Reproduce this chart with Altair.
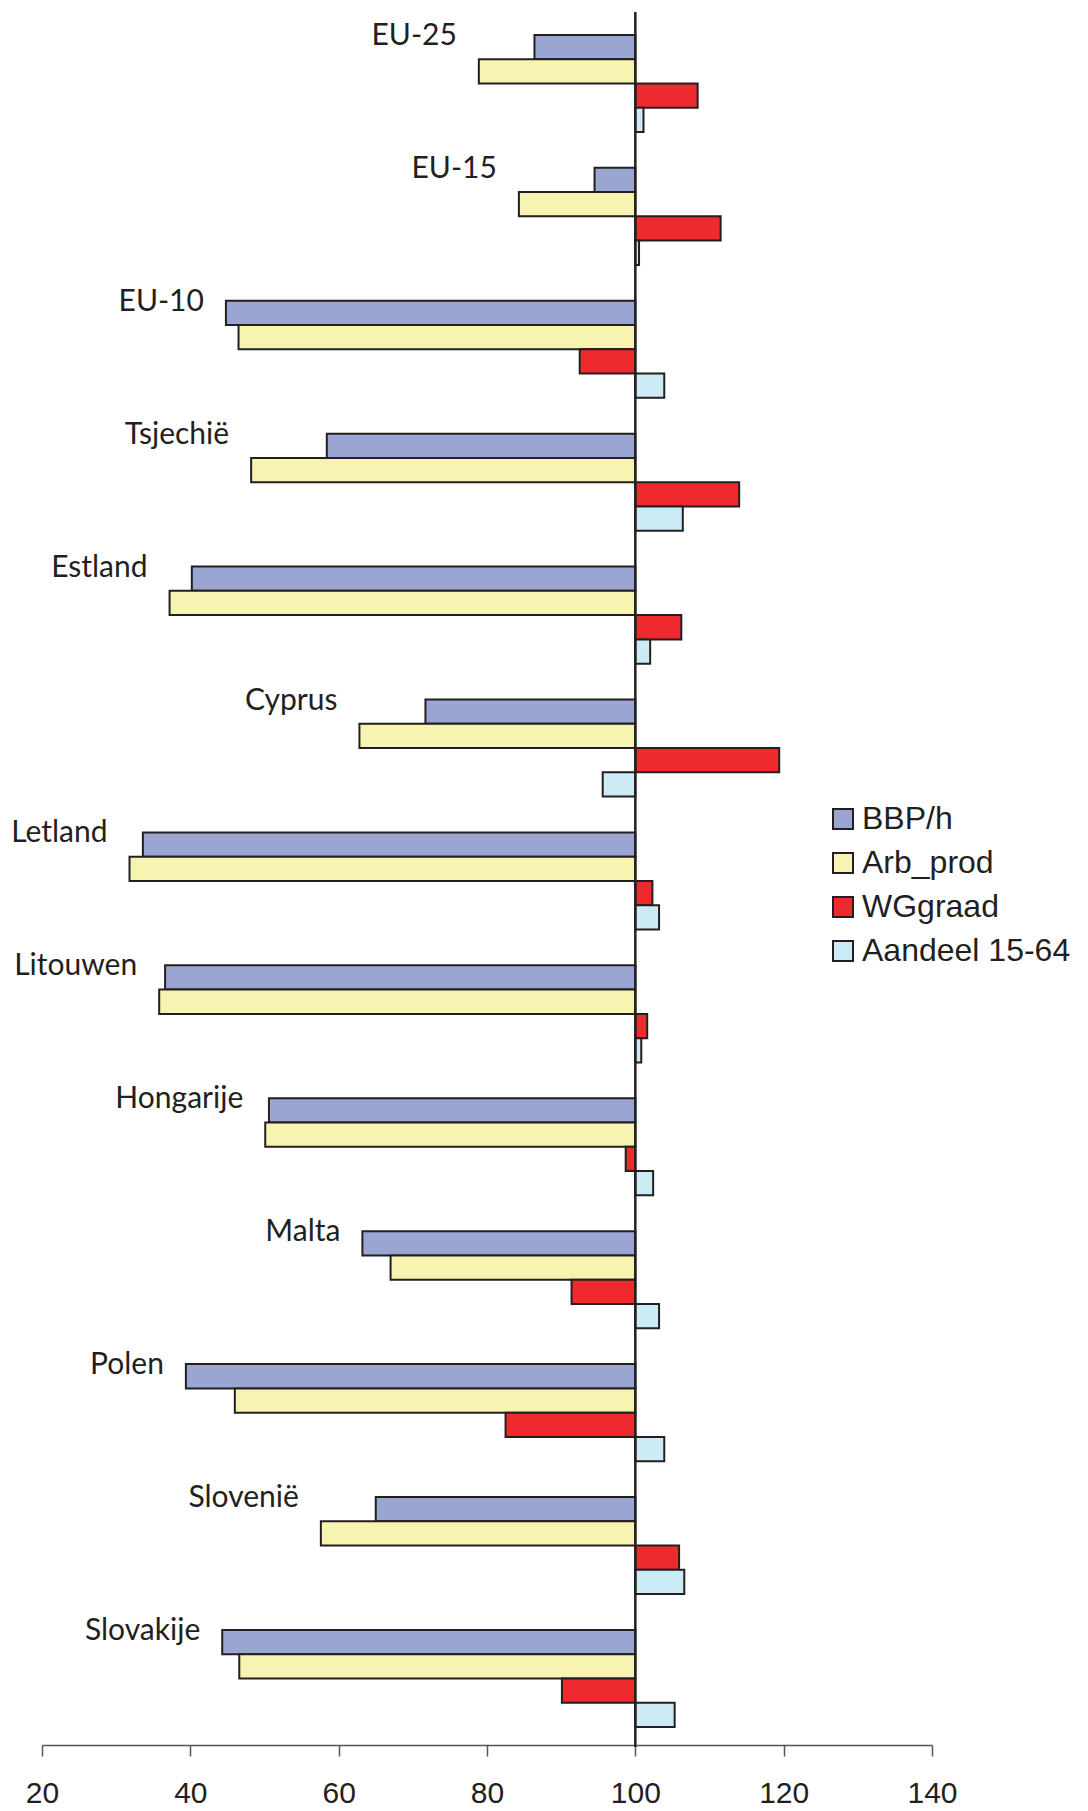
import altair as alt
import pandas as pd

countries = ["EU-25", "EU-15", "EU-10", "Tsjechië", "Estland", "Cyprus", "Letland",
             "Litouwen", "Hongarije", "Malta", "Polen", "Slovenië", "Slovakije"]
series = ["BBP/h", "Arb_prod", "WGgraad", "Aandeel 15-64"]

bbp_h = [86.4, 94.5, 44.8, 58.4, 40.2, 71.7, 33.6, 36.6, 50.6, 63.2, 39.4, 65.0, 44.3]
arb_prod = [78.9, 84.3, 46.5, 48.2, 37.2, 62.8, 31.8, 35.8, 50.1, 67.0, 46.0, 57.6, 46.6]
wggraad = [108.4, 111.5, 92.5, 114.0, 106.2, 119.4, 102.3, 101.6, 98.7, 91.4, 82.5, 105.9, 90.1]
aandeel = [101.1, 100.5, 103.9, 106.4, 102.0, 95.6, 103.2, 100.8, 102.4, 103.2, 103.9, 106.6, 105.3]

x_ticks = [20, 40, 60, 80, 100, 120, 140]
colors = ["#9AA5D2", "#F7F3B0", "#EE2A2F", "#CCEBF4"]
ink = "#231F20"

rows = []
for s, vals in zip(series, [bbp_h, arb_prod, wggraad, aandeel]):
    for c, v in zip(countries, vals):
        rows.append({"country": c, "series": s, "value": v})
df = pd.DataFrame(rows)

lab_df = pd.DataFrame({"country": countries,
                       "minv": [min(a, b) for a, b in zip(bbp_h, arb_prod)]})

W, H = 890, 1733

xscale = alt.Scale(domain=[20, 140], nice=False, zero=False)
yscale = alt.Scale(paddingInner=0.27, paddingOuter=0.154, align=0.56)

bars = alt.Chart(df).mark_bar(stroke=ink, strokeWidth=2).encode(
    x=alt.X("value:Q", scale=xscale,
            axis=alt.Axis(values=x_ticks, title=None, grid=False, domainColor="#555555",
                          domainWidth=1.5, tickColor="#555555", tickWidth=1.5, tickSize=11,
                          labelFont="Liberation Sans", labelFontSize=30, labelColor=ink,
                          labelPadding=22, labelFlush=False, labelOverlap=False)),
    x2=alt.datum(100),
    y=alt.Y("country:N", sort=countries, axis=None, scale=yscale),
    yOffset=alt.YOffset("series:N", sort=series,
                        scale=alt.Scale(domain=series, paddingInner=0, paddingOuter=0)),
    color=alt.Color("series:N", sort=series,
                    scale=alt.Scale(domain=series, range=colors),
                    legend=alt.Legend(orient="none", legendX=785, legendY=791, title=None,
                                      symbolType="square", symbolSize=400,
                                      symbolStrokeColor=ink, symbolStrokeWidth=2,
                                      labelFont="Liberation Sans", labelFontSize=32,
                                      labelColor=ink, rowPadding=12, labelOffset=3,
                                      labelLimit=0, padding=0)),
)

vline = alt.Chart(pd.DataFrame({"v": [100]})).mark_rule(color=ink, strokeWidth=2.5).encode(
    x=alt.X("v:Q", scale=xscale),
    y=alt.value(0),
    y2=alt.value(H + 2),
)

labels = alt.Chart(lab_df).mark_text(align="right", baseline="alphabetic", dx=-22, dy=10,
                                     font="Lato", fontSize=30, color=ink).encode(
    x=alt.X("minv:Q", scale=xscale),
    y=alt.Y("country:N", sort=countries, bandPosition=0, scale=yscale),
    text="country:N",
)

chart = alt.layer(bars, vline, labels).properties(
    width=W, height=H,
    autosize=alt.AutoSizeParams(type="none"),
    padding={"left": 34, "top": 4, "right": 148, "bottom": 70},
).configure_view(stroke=None)

chart.save("out.html", embed_options={"renderer": "svg", "actions": False})
